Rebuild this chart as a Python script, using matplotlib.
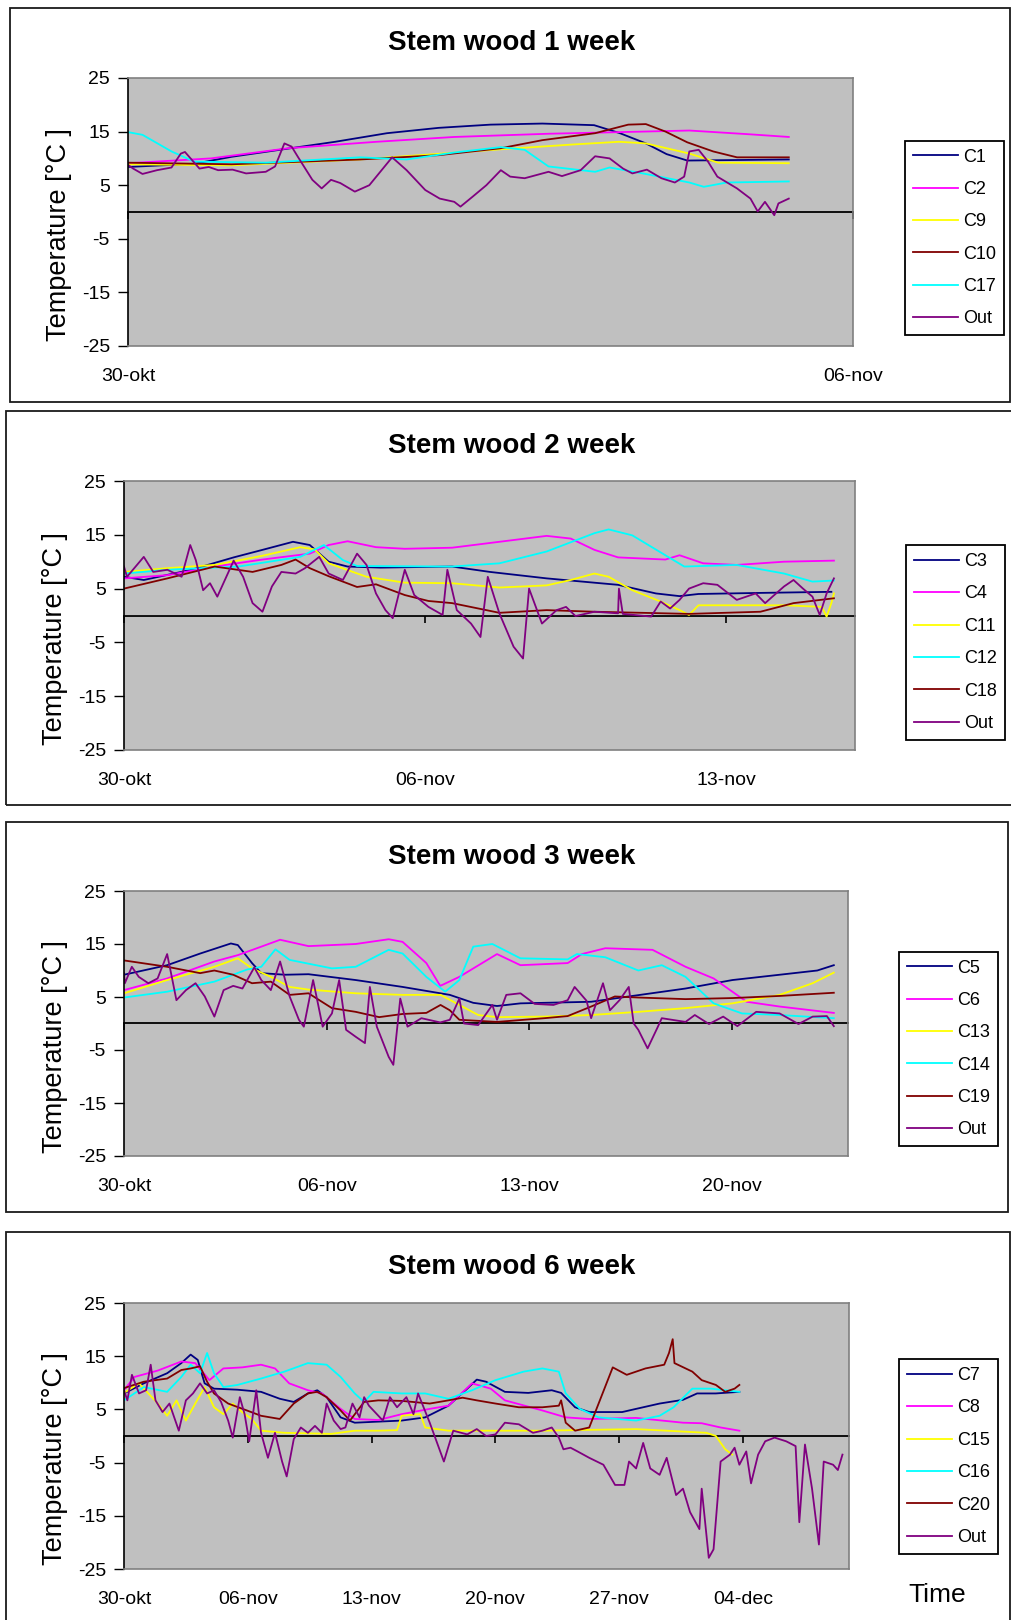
import matplotlib.pyplot as plt
from matplotlib.patches import Rectangle

plt.rcParams['font.family'] = ['Liberation Sans', 'DejaVu Sans']
plt.rcParams['axes.unicode_minus'] = False

W, H = 1012, 1620

date_labels = ['30-okt', '06-nov', '13-nov', '20-nov', '27-nov', '04-dec']
y_ticks = [-25, -15, -5, 5, 15, 25]
navy, magenta, yellow, brown, cyan, purple = ('#000080', '#FF00FF', '#FFFF00',
                                              '#800000', '#00FFFF', '#800080')

# time axis: days after 30-okt, values in degC

# ---- week 1
c1_t = [0, 0.64, 1.0, 1.5, 2.0, 2.5, 3.0, 3.5, 4.0, 4.5, 4.75, 5.0, 5.2, 5.4, 5.9, 6.38]
c1_v = [8.4, 9.0, 10.3, 11.7, 13.1, 14.7, 15.7, 16.3, 16.5, 16.2, 14.7, 12.8, 10.8, 9.6, 9.7, 9.8]
c2_t = [0, 0.8, 1.55, 2.4, 3.15, 4.06, 4.74, 5.42, 6.0, 6.38]
c2_v = [9.1, 10.0, 11.9, 13.1, 14.0, 14.6, 14.9, 15.2, 14.5, 14.0]
c9_t = [0, 1.0, 2.24, 3.6, 4.3, 4.74, 5.0, 5.42, 5.7, 6.38]
c9_v = [8.9, 8.7, 9.8, 11.7, 12.6, 13.1, 12.8, 10.9, 9.2, 9.1]
c10_t = [0, 1.0, 2.24, 3.0, 3.6, 4.0, 4.51, 4.83, 5.0, 5.19, 5.4, 5.65, 5.88, 6.38]
c10_v = [9.2, 8.9, 9.8, 10.6, 11.9, 13.4, 14.7, 16.3, 16.4, 15.0, 13.0, 11.3, 10.2, 10.2]
c17_t = [0, 0.14, 0.42, 0.64, 1.33, 2.24, 2.69, 3.15, 3.6, 3.83, 4.06, 4.51, 4.65, 4.97,
         5.42, 5.56, 5.78, 6.38]
c17_v = [14.9, 14.4, 11.3, 9.4, 9.2, 10.2, 9.8, 11.1, 12.1, 11.6, 8.5, 7.5, 8.3, 7.2,
         5.5, 4.7, 5.5, 5.7]
out1_t = [0, 0.05, 0.14, 0.28, 0.42, 0.51, 0.55, 0.69, 0.78, 0.87, 1.01, 1.14, 1.33, 1.42,
          1.51, 1.58, 1.64, 1.78, 1.87, 1.96, 2.05, 2.19, 2.33, 2.55, 2.69, 2.87, 3.01,
          3.15, 3.21, 3.33, 3.46, 3.6, 3.69, 3.83, 4.06, 4.19, 4.37, 4.51, 4.65, 4.78,
          4.87, 5.01, 5.15, 5.28, 5.37, 5.42, 5.51, 5.6, 5.69, 5.88, 6.01, 6.08, 6.15,
          6.24, 6.28, 6.38]
out1_v = [8.8, 8.1, 7.1, 7.8, 8.3, 10.9, 11.2, 8.1, 8.4, 7.8, 7.9, 7.2, 7.5, 8.5,
          12.8, 12.2, 10.3, 6.0, 4.4, 6.0, 5.4, 3.8, 5.0, 10.2, 7.8, 4.1, 2.5,
          1.9, 1.0, 2.9, 5.0, 7.8, 6.6, 6.3, 7.5, 6.7, 7.8, 10.4, 10.0, 8.1,
          7.2, 7.9, 6.3, 5.5, 6.6, 11.3, 11.6, 9.4, 6.6, 4.4, 2.5, 0.1, 1.9,
          -0.6, 1.6, 2.5]

# ---- week 2
c3_t = [0, 0.46, 1.56, 2.55, 3.22, 3.93, 4.32, 4.76, 5.2, 5.97, 7.63, 8.51, 9.83, 11.49,
        12.37, 12.92, 13.36, 14.8, 16.45]
c3_v = [7.2, 6.6, 8.5, 10.8, 12.2, 13.7, 13.1, 10.0, 9.1, 8.9, 9.1, 8.1, 6.9, 5.7,
        4.1, 3.6, 4.0, 4.2, 4.4]
c4_t = [0, 1.01, 2.11, 3.22, 4.32, 4.76, 5.2, 5.86, 6.53, 7.63, 8.73, 9.83, 10.39, 10.94,
        11.49, 12.59, 12.92, 13.47, 14.25, 15.35, 16.51]
c4_v = [6.9, 7.5, 9.1, 10.4, 11.5, 13.1, 13.8, 12.7, 12.4, 12.6, 13.7, 14.8, 14.3, 12.2,
        10.8, 10.4, 11.2, 9.7, 9.4, 10.0, 10.2]
c11_t = [0, 1.01, 2.11, 3.22, 4.1, 4.43, 4.76, 5.64, 6.53, 7.63, 8.73, 9.83, 10.39, 10.94,
         11.27, 11.82, 12.48, 12.92, 13.14, 13.36, 15.35, 16.23, 16.34, 16.45, 16.51]
c11_v = [8.1, 8.8, 9.4, 11.1, 12.7, 12.3, 9.7, 7.2, 6.1, 6.0, 5.2, 5.6, 6.6, 7.8,
         7.2, 4.7, 2.6, 1.0, 0.1, 1.9, 1.9, 1.6, -0.2, 2.3, 4.1]
c12_t = [0, 1.01, 2.66, 4.1, 4.65, 5.09, 5.42, 7.63, 8.73, 9.83, 10.94, 11.27, 11.82, 12.59,
         13.03, 14.25, 15.35, 16.01, 16.51]
c12_v = [7.8, 8.5, 9.1, 10.9, 13.1, 10.3, 9.2, 9.1, 9.7, 11.9, 15.3, 16.0, 14.9, 11.2,
         9.1, 9.4, 7.8, 6.3, 6.5]
c18_t = [0, 1.01, 2.11, 2.99, 3.66, 3.99, 4.32, 4.76, 5.42, 5.86, 6.53, 7.08, 7.63, 8.73,
         9.83, 10.94, 13.14, 14.8, 15.57, 16.51]
c18_v = [5.0, 6.9, 9.1, 8.1, 9.4, 10.4, 8.8, 7.3, 5.3, 5.8, 3.8, 2.7, 2.3, 0.5,
         1.0, 0.7, 0.3, 0.7, 2.3, 3.2]
out2_t = [0, 0.07, 0.46, 0.68, 1.01, 1.34, 1.54, 1.67, 1.84, 2.0, 2.17, 2.55, 2.77, 2.99,
          3.22, 3.44, 3.66, 3.99, 4.21, 4.54, 4.76, 5.09, 5.42, 5.64, 5.86, 6.08, 6.25,
          6.53, 6.75, 7.08, 7.41, 7.52, 7.74, 8.07, 8.29, 8.46, 8.73, 9.06, 9.28, 9.42,
          9.72, 10.06, 10.28, 10.5, 10.94, 11.49, 11.51, 11.6, 12.26, 12.48, 12.7, 12.92,
          13.14, 13.47, 13.8, 14.25, 14.69, 14.91, 15.35, 15.57, 15.79, 16.01, 16.18,
          16.34, 16.51]
out2_v = [9.1, 7.2, 10.9, 8.1, 8.5, 7.2, 13.1, 10.3, 4.7, 6.0, 3.5, 10.2, 7.2, 2.3,
          0.7, 5.4, 8.1, 7.8, 8.8, 10.9, 7.8, 6.6, 11.5, 9.4, 4.1, 1.0, -0.5,
          8.5, 3.8, 1.6, 0.1, 8.5, 1.0, -1.5, -4.0, 7.2, 0.4, -5.8, -8.0, 5.0,
          -1.5, 1.0, 1.6, -0.1, 0.7, 0.4, 5.0, 0.3, -0.2, 2.6, 1.3, 2.9,
          5.0, 6.0, 5.7, 2.9, 4.1, 2.3, 5.4, 6.6, 5.0, 3.5, 0.1,
          4.1, 6.9]

# ---- week 3
c5_t = [0, 1.49, 2.63, 3.69, 3.93, 4.42, 4.74, 5.56, 6.37, 8.0, 9.62, 11.25, 12.06, 12.88,
        13.69, 16.13, 17.43, 19.39, 21.01, 22.64, 23.94, 24.51]
c5_v = [9.2, 11.0, 13.2, 15.1, 14.8, 11.4, 9.5, 9.2, 9.3, 8.2, 6.9, 5.4, 3.9, 3.3,
        3.8, 4.1, 5.1, 6.6, 8.2, 9.2, 10.0, 11.0]
c6_t = [0, 1.49, 3.12, 3.93, 4.74, 5.39, 6.37, 8.0, 9.14, 9.62, 10.44, 10.92, 11.58, 12.88,
        13.69, 15.32, 15.81, 16.62, 18.25, 19.39, 20.36, 21.5, 22.64, 24.51]
c6_v = [6.3, 8.5, 11.7, 12.9, 14.5, 15.8, 14.6, 15.0, 15.9, 15.4, 11.4, 7.1, 8.8, 13.1,
        11.0, 11.4, 13.1, 14.2, 13.9, 10.7, 8.5, 4.1, 3.2, 2.0]
c13_t = [0, 1.49, 3.12, 3.93, 4.42, 5.07, 5.72, 6.37, 8.0, 9.62, 10.93, 11.58, 12.23, 12.88,
         14.51, 16.13, 17.76, 19.39, 21.01, 22.64, 23.78, 24.51]
c13_v = [5.7, 8.2, 10.7, 12.3, 10.4, 8.8, 6.9, 6.4, 5.7, 5.4, 5.4, 3.5, 1.6, 1.2,
         1.3, 1.6, 2.2, 2.9, 3.8, 5.4, 7.6, 9.6]
c14_t = [0, 1.49, 3.12, 4.26, 4.74, 5.23, 5.72, 7.18, 8.0, 9.14, 9.62, 10.44, 11.09, 11.58,
         12.06, 12.72, 13.69, 15.32, 15.64, 16.62, 17.76, 18.57, 19.39, 20.36, 21.34,
         22.64, 24.51]
c14_v = [4.9, 6.0, 7.9, 10.2, 10.7, 14.0, 12.0, 10.4, 10.7, 13.9, 13.2, 8.8, 6.0, 8.2,
         14.5, 15.0, 12.3, 12.1, 13.1, 12.5, 10.0, 11.0, 8.8, 3.8, 1.9,
         1.6, 1.0]
c19_t = [0, 1.49, 2.63, 3.12, 3.77, 4.42, 5.07, 5.72, 6.37, 7.18, 8.0, 8.81, 9.62, 10.44,
         10.93, 11.25, 11.58, 12.88, 14.51, 15.32, 16.13, 16.95, 17.76, 19.39, 21.01,
         22.64, 24.51]
c19_v = [11.9, 10.7, 9.5, 10.0, 9.2, 7.6, 7.9, 5.4, 5.7, 2.9, 2.2, 1.2, 1.8, 2.0,
         3.5, 2.5, 0.7, 0.3, 1.0, 1.4, 3.2, 5.1, 4.9, 4.6, 4.8,
         5.2, 5.8]
out3_t = [0, 0.03, 0.27, 0.51, 0.84, 1.16, 1.49, 1.65, 1.81, 2.14, 2.47, 2.79, 3.12, 3.44,
          3.77, 4.09, 4.5, 4.74, 5.07, 5.39, 5.72, 6.04, 6.21, 6.53, 6.86, 7.18, 7.43,
          7.67, 8.0, 8.32, 8.49, 8.73, 9.14, 9.3, 9.54, 9.79, 10.27, 10.92, 11.25, 11.58,
          11.74, 12.23, 12.72, 12.88, 13.2, 13.69, 14.18, 14.83, 15.32, 15.56, 15.97,
          16.13, 16.54, 16.78, 17.11, 17.43, 17.6, 17.76, 18.08, 18.41, 18.57, 19.39,
          19.71, 20.2, 20.69, 21.18, 21.83, 22.64, 23.29, 23.78, 24.27, 24.51]
out3_v = [9.5, 7.6, 10.7, 8.8, 7.6, 8.5, 13.1, 8.8, 4.4, 6.3, 7.6, 5.1, 1.3, 6.3,
          7.1, 6.6, 10.6, 8.2, 6.3, 11.7, 5.1, 0.7, -0.6, 8.2, -0.6, 1.9, 8.2,
          -1.2, -2.5, -3.7, 6.9, -0.6, -6.3, -7.8, 4.7, -0.6, 1.0, 0.2, 0.7, 4.7,
          0.0, -0.3, 3.5, 0.7, 5.4, 5.7, 3.7, 3.5, 4.4, 6.9, 4.3,
          1.0, 7.6, 2.5, 4.4, 6.9, 0.0, -1.2, -4.7, -0.9, 1.0, 0.3,
          1.6, -0.1, 1.3, -0.5, 2.2, 1.9, -0.1, 1.3, 1.4, -0.5]

# ---- week 6
c7_t = [0, 1.12, 2.44, 3.24, 3.77, 4.17, 4.56, 5.09, 6.42, 7.75, 8.81, 9.6, 10.4, 10.93,
        11.46, 12.25, 13.05, 14.38, 15.7, 17.03, 18.35, 19.41, 19.95, 20.48, 21.54,
        22.86, 24.19, 24.72, 25.51, 26.31, 28.17, 28.96, 30.29, 31.61, 32.41, 33.47, 34.8]
c7_v = [8.0, 9.9, 11.8, 13.7, 15.3, 14.3, 9.9, 8.9, 8.7, 8.3, 7.0, 6.4, 8.0, 8.6,
        7.3, 3.5, 2.5, 2.7, 2.9, 3.5, 5.7, 8.9, 10.6, 10.2, 8.3,
        8.1, 8.6, 8.1, 5.4, 4.5, 4.5, 5.1, 6.1, 6.8, 8.0, 8.0, 8.3]
c8_t = [0, 0.59, 1.91, 3.24, 4.03, 4.83, 5.62, 6.69, 7.75, 8.54, 9.34, 10.4, 11.19, 12.25,
        13.05, 14.38, 15.7, 17.29, 18.35, 19.68, 20.74, 21.54, 23.66, 24.98, 26.31,
        28.96, 31.61, 32.67, 33.74, 34.8]
c8_v = [8.6, 11.1, 12.3, 14.0, 13.7, 10.5, 12.7, 12.9, 13.4, 12.7, 9.9, 8.6, 8.0, 5.1,
        3.2, 3.0, 4.1, 5.1, 5.7, 9.9, 8.9, 6.7, 4.8, 3.5, 3.2,
        3.4, 2.5, 2.4, 1.6, 1.0]
c15_t = [0, 0.85, 1.91, 2.44, 2.97, 3.5, 4.03, 4.56, 5.09, 5.62, 6.15, 6.68, 7.22, 7.75,
         9.07, 11.72, 13.05, 14.38, 15.44, 15.7, 16.76, 17.03, 18.35, 23.66, 28.96,
         32.94, 33.47, 34.0, 34.4]
c15_v = [8.1, 9.9, 6.1, 3.8, 6.7, 2.9, 6.1, 9.2, 5.4, 4.1, 6.1, 4.5, 3.2, 1.0,
         0.6, 0.4, 1.0, 1.0, 1.1, 3.8, 4.1, 1.6, 1.0, 1.0, 1.3,
         0.6, 0.0, -2.5, -3.5]
c16_t = [0, 1.12, 2.44, 3.24, 3.77, 4.3, 4.7, 5.09, 5.62, 6.42, 7.75, 9.07, 10.4, 11.46,
         12.25, 13.05, 13.58, 14.11, 15.7, 17.03, 18.35, 19.68, 21.01, 22.6, 23.66,
         24.59, 24.98, 25.78, 26.84, 28.96, 30.29, 31.08, 32.14, 33.2, 34.8]
c16_v = [6.7, 9.2, 8.3, 11.1, 13.4, 11.8, 15.6, 11.8, 9.2, 9.6, 10.8, 12.1, 13.7, 13.4,
         11.1, 8.0, 6.4, 8.3, 8.0, 8.0, 7.0, 8.6, 10.5, 12.1, 12.7,
         12.1, 8.0, 5.1, 3.5, 2.9, 3.8, 5.4, 8.9, 8.9, 8.3]
c20_t = [0, 1.12, 2.44, 3.24, 3.77, 4.3, 4.7, 5.09, 5.89, 6.95, 7.75, 8.81, 9.6, 10.4,
         10.93, 11.46, 12.25, 12.78, 13.58, 14.38, 15.7, 17.29, 18.35, 19.15, 19.95,
         21.01, 22.33, 23.66, 24.59, 24.72, 24.98, 25.51, 26.31, 26.84, 27.64, 28.43,
         29.49, 30.55, 30.82, 31.03, 31.13, 32.14, 32.67, 33.47, 34.0, 34.53, 34.8]
c20_v = [9.0, 10.2, 10.8, 12.4, 12.7, 13.1, 10.2, 8.0, 6.1, 4.8, 3.8, 3.2, 6.1, 8.0,
         8.3, 7.3, 4.8, 2.9, 6.4, 6.7, 6.6, 6.1, 6.7, 7.2, 6.7,
         6.1, 5.4, 5.4, 5.7, 6.7, 2.5, 1.0, 1.6, 6.1, 12.9, 11.5,
         12.7, 13.4, 15.6, 18.2, 13.7, 12.1, 10.5, 9.6, 8.3, 8.9, 9.6]
out4_t = [0, 0.19, 0.45, 0.85, 1.25, 1.51, 1.78, 2.18, 2.57, 2.84, 3.1, 3.5, 3.9, 4.3,
          4.7, 5.09, 5.49, 5.89, 6.15, 6.55, 6.82, 7.08, 7.48, 7.75, 8.14, 8.54, 8.94,
          9.2, 9.6, 10.0, 10.4, 10.8, 11.19, 11.46, 11.86, 12.25, 12.52, 12.92, 13.32,
          13.58, 13.85, 14.64, 15.04, 15.44, 15.97, 16.37, 16.63, 17.29, 18.09, 18.62,
          19.41, 19.95, 20.48, 21.01, 21.54, 22.33, 23.13, 23.66, 24.19, 24.59, 24.85,
          25.25, 25.65, 26.31, 27.11, 27.77, 28.3, 28.56, 28.96, 29.36, 29.76, 30.29,
          30.69, 31.22, 31.61, 32.01, 32.54, 32.67, 33.07, 33.34, 33.74, 34.27, 34.53,
          34.8, 35.19, 35.46, 35.86, 36.26, 36.79, 37.45, 37.98, 38.19, 38.51, 38.91,
          39.3, 39.57, 40.1, 40.37, 40.63]
out4_v = [8.6, 6.7, 11.5, 8.0, 8.6, 13.4, 6.7, 4.5, 6.1, 3.5, 1.0, 6.7, 8.0, 9.9,
          8.0, 8.6, 6.4, 2.9, -0.3, 7.3, 4.1, -1.0, 8.6, 0.6, -4.1, 0.6, -4.8,
          -7.6, -0.6, 1.6, 0.6, 1.9, 0.6, 6.1, 2.9, 1.3, 1.6, 6.1, 3.5,
          7.3, 5.7, 2.9, 7.3, 5.4, 7.3, 4.1, 8.0, 2.5, -4.8, 1.0,
          0.3, 1.3, 0.0, 0.3, 2.5, 2.2, 0.6, 1.0, 1.6, -0.3, -2.5,
          -2.2, -2.9, -4.1, -5.4, -9.2, -9.2, -4.8, -6.1, -1.3, -6.1, -7.3,
          -4.1, -11.1, -9.9, -14.3, -17.5, -9.9, -22.9, -21.3, -4.8, -3.5, -2.2,
          -5.4, -2.9, -8.9, -3.5, -1.0, -0.3, -1.0, -1.9, -16.2, -1.6, -9.9,
          -20.4, -4.8, -5.4, -6.4, -3.5]

panels = [
    dict(title='Stem wood 1 week', frame=(10, 8, 1010, 402), box=(128, 78, 853, 346),
         ndays=7, legend_at=(954.5, 238),
         names=['C1', 'C2', 'C9', 'C10', 'C17', 'Out'],
         colors=[navy, magenta, yellow, brown, cyan, purple],
         series=[(c1_t, c1_v), (c2_t, c2_v), (c9_t, c9_v), (c10_t, c10_v),
                 (c17_t, c17_v), (out1_t, out1_v)]),
    dict(title='Stem wood 2 week', frame=(6, 411, 1016, 805), box=(124, 481, 855, 750),
         ndays=17, legend_at=(955.5, 642.5),
         names=['C3', 'C4', 'C11', 'C12', 'C18', 'Out'],
         colors=[navy, magenta, yellow, cyan, brown, purple],
         series=[(c3_t, c3_v), (c4_t, c4_v), (c11_t, c11_v), (c12_t, c12_v),
                 (c18_t, c18_v), (out2_t, out2_v)]),
    dict(title='Stem wood 3 week', frame=(6, 822, 1008, 1212), box=(124, 891, 848, 1156),
         ndays=25, legend_at=(948.5, 1049),
         names=['C5', 'C6', 'C13', 'C14', 'C19', 'Out'],
         colors=[navy, magenta, yellow, cyan, brown, purple],
         series=[(c5_t, c5_v), (c6_t, c6_v), (c13_t, c13_v), (c14_t, c14_v),
                 (c19_t, c19_v), (out3_t, out3_v)]),
    dict(title='Stem wood 6 week', frame=(6, 1232, 1010, 1630), box=(124, 1303, 849, 1569),
         ndays=41, legend_at=(948.5, 1456.5),
         names=['C7', 'C8', 'C15', 'C16', 'C20', 'Out'],
         colors=[navy, magenta, yellow, cyan, brown, purple],
         series=[(c7_t, c7_v), (c8_t, c8_v), (c15_t, c15_v), (c16_t, c16_v),
                 (c20_t, c20_v), (out4_t, out4_v)]),
]


def fig_rect(x0, y0, x1, y1):
    # pixel box (top-left origin) -> figure fraction rect
    return [x0 / W, 1 - y1 / H, (x1 - x0) / W, (y1 - y0) / H]


fig = plt.figure(figsize=(W / 100, H / 100), dpi=100)

for p in panels:
    fx0, fy0, fx1, fy1 = p['frame']
    r = fig_rect(fx0, fy0, fx1, fy1)
    fig.patches.append(Rectangle((r[0], r[1]), r[2], r[3], transform=fig.transFigure,
                                 fill=False, ec='#1a1a1a', lw=1.3))

    ax = fig.add_axes(fig_rect(*p['box']))
    ax.set_facecolor('#C0C0C0')
    for (t, v), c, name in zip(p['series'], p['colors'], p['names']):
        ax.plot(t, v, color=c, lw=1.3, label=name)

    ax.set_xlim(0, p['ndays'])
    ax.set_ylim(-25, 25)
    ax.set_yticks(y_ticks)
    ax.tick_params(axis='y', direction='out', length=7, width=1, pad=6, labelsize=14)
    xt = list(range(0, p['ndays'] + 1, 7))
    ax.set_xticks(xt)
    ax.set_xticklabels(date_labels[:len(xt)])
    ax.tick_params(axis='x', length=0, pad=16, labelsize=14)
    for s in ['top', 'right', 'bottom']:
        ax.spines[s].set_color('#808080')
        ax.spines[s].set_linewidth(1.2)
    ax.spines['left'].set_color('black')
    ax.spines['left'].set_linewidth(1.2)

    # category axis crossing at 0 degC
    zero = ax.secondary_xaxis(0.5)
    zero.set_alignment('bottom')
    zero.set_xticks(xt)
    zero.tick_params(direction='out', length=5, width=1.2, labelbottom=False)
    zero.spines['bottom'].set_color('black')
    zero.spines['bottom'].set_linewidth(1.3)

    ax.set_ylabel('Temperature [°C ]', fontsize=19.5)
    ax.yaxis.set_label_coords(-0.077, 0.414)

    fig.text(512 / W, 1 - (fy0 + 35) / H, p['title'], ha='center', va='center',
             fontsize=20, fontweight='bold')

    lx, ly = p['legend_at']
    leg = ax.legend(loc='center', bbox_to_anchor=(lx / W, 1 - ly / H),
                    bbox_transform=fig.transFigure, fontsize=13, frameon=True,
                    fancybox=False, edgecolor='black', framealpha=1,
                    handlelength=2.5, handletextpad=0.3, labelspacing=0.85,
                    borderpad=0.45)
    leg.get_frame().set_linewidth(1.3)

fig.text(937 / W, 1 - 1595 / H, 'Time', ha='center', va='center', fontsize=19)

plt.savefig('out.png', dpi=100, facecolor='white')
